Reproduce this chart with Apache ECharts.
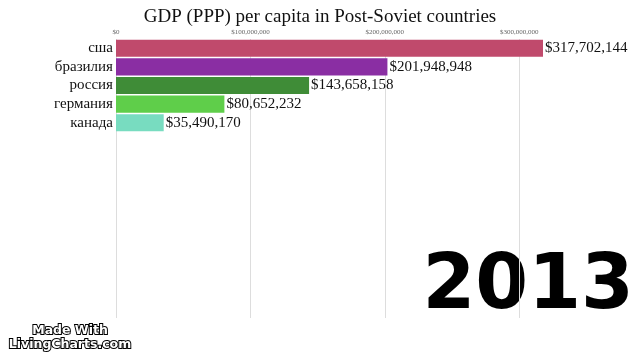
<!DOCTYPE html>
<html><head><meta charset="utf-8">
<script src="https://cdn.jsdelivr.net/npm/echarts@6/dist/echarts.min.js"></script>
<style>html,body{margin:0;padding:0;background:#fff}#c{width:640px;height:360px}</style>
</head><body><div id="c"></div>
<script>
const countries = ['сша','бразилия','россия','германия','канада'];
const values = [317702144, 201948948, 143658158, 80652232, 35490170];
const colors = ['#c04a6c','#8a2ea3','#3f8c37','#5fce4a','#78dcc0'];
const tickValues = [0, 100000000, 200000000, 300000000];
const year = '2013';
const title = 'GDP (PPP) per capita in Post-Soviet countries';

const slots = 15;
const cats = countries.slice();
while (cats.length < slots) cats.push('');
const fmt = v => '$' + Number(v).toLocaleString('en-US');

const chart = echarts.init(document.getElementById('c'));
chart.setOption({
  animation: false,
  title: { text: title, left: 'center', top: 3,
    textStyle: { fontFamily: 'Liberation Serif', fontWeight: 'normal', fontSize: 19, color: '#111' } },
  grid: { left: 116, right: 97, top: 39, bottom: 42 },
  xAxis: {
    type: 'value', position: 'top', min: 0, max: 'dataMax', interval: 100000000,
    axisLine: { show: false }, axisTick: { show: false },
    splitLine: { showMaxLine: false, lineStyle: { color: '#dddddd', width: 1 } },
    axisLabel: { fontFamily: 'Liberation Serif', fontSize: 7, color: '#666', margin: 3, showMaxLabel: false,
      formatter: v => tickValues.indexOf(v) >= 0 ? fmt(v) : '' }
  },
  yAxis: {
    type: 'category', inverse: true, data: cats,
    axisLine: { show: false }, axisTick: { show: false },
    axisLabel: { interval: 0, fontFamily: 'Liberation Serif', fontSize: 15, color: '#111', margin: 3 }
  },
  series: [{
    type: 'bar', barCategoryGap: '8%',
    data: values.map((v, i) => ({ value: v, itemStyle: { color: colors[i] } })),
    label: { show: true, position: 'right', distance: 2, formatter: p => fmt(p.value),
      fontFamily: 'Liberation Serif', fontSize: 15, color: '#111' }
  }],
  graphic: [
    { type: 'text', right: 6, top: 250,
      style: { text: year, font: 'bold 76px "DejaVu Sans"', fill: '#000' } },
    { type: 'text', x: 70, y: 324,
      style: { text: 'Made With\nLivingCharts.com', font: 'bold 12.5px "DejaVu Sans"', fill: '#fff',
        stroke: '#000', lineWidth: 2, align: 'center', verticalAlign: 'top', lineHeight: 14 } }
  ]
});
</script></body></html>
